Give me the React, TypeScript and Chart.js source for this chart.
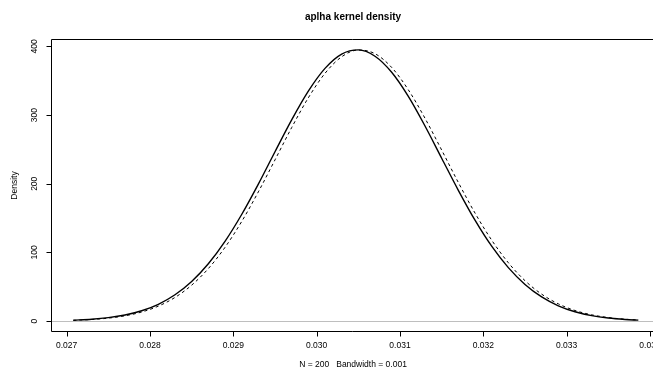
import React, { useEffect, useRef } from "react";
import { Chart, registerables } from "chart.js";

Chart.register(...registerables);

const chartTitle = "aplha kernel density";
const xAxisLabel = "N = 200   Bandwidth = 0.001";
const yAxisLabel = "Density";

const xValues = [
  0.02708, 0.0273, 0.0275, 0.0277, 0.0279, 0.0281, 0.0283, 0.0285, 0.0287, 0.0289,
  0.0291, 0.0293, 0.0295, 0.0297, 0.0299, 0.0301, 0.0303, 0.0305, 0.0307, 0.0309,
  0.0311, 0.0313, 0.0315, 0.0317, 0.0319, 0.0321, 0.0323, 0.0325, 0.0327, 0.0329,
  0.0331, 0.0333, 0.0335, 0.0337, 0.03386,
];

const kdeDensity = [
  1.37, 2.78, 5.08, 8.94, 15.12, 24.59, 38.46, 57.82, 83.59, 116.2,
  155.3, 199.6, 246.7, 293.1, 334.9, 368.0, 388.8, 394.9, 385.7, 362.3,
  327.2, 284.1, 237.2, 190.5, 147.0, 109.1, 77.9, 53.46, 35.27, 22.38,
  13.66, 8.01, 4.52, 2.45, 1.46,
];

const normalDensity = [
  1.16, 2.38, 4.39, 7.79, 13.31, 21.86, 34.51, 52.41, 76.5, 107.4,
  145.0, 188.2, 234.8, 281.8, 325.2, 360.8, 384.9, 394.8, 389.4, 369.4,
  336.8, 295.4, 249.1, 201.9, 157.4, 118.0, 85.05, 58.94, 39.28, 25.18,
  15.51, 9.19, 5.23, 2.87, 1.72,
];

const xTicks = [0.027, 0.028, 0.029, 0.03, 0.031, 0.032, 0.033, 0.034];
const yTicks = [0, 100, 200, 300, 400];

const X_MIN = 0.026812;
const X_MAX = 0.034036;
const X_FULL_MAX = 0.03406;
const Y_MIN = -15.8;
const Y_MAX = 410.8;

const FONT = '"Liberation Sans", Arial, Helvetica, sans-serif';

const rAxesPlugin = {
  id: "rAxes",
  beforeDatasetsDraw(chart: any) {
    const { ctx, chartArea, scales } = chart;
    const y0 = Math.round(scales.y.getPixelForValue(0)) + 0.5;
    ctx.save();
    ctx.strokeStyle = "#bebebe";
    ctx.lineWidth = 1;
    ctx.beginPath();
    ctx.moveTo(chartArea.left, y0);
    ctx.lineTo(chart.width, y0);
    ctx.stroke();
    ctx.restore();
  },
  afterDraw(chart: any) {
    const { ctx, chartArea, scales } = chart;
    const xs = scales.x;
    const ys = scales.y;
    const left = Math.round(chartArea.left) + 0.5;
    const top = Math.round(chartArea.top) + 0.5;
    const bottom = Math.round(chartArea.bottom) - 0.5;
    ctx.save();
    ctx.strokeStyle = "#000";
    ctx.lineWidth = 1;
    ctx.beginPath();
    ctx.moveTo(chart.width + 2, top);
    ctx.lineTo(left, top);
    ctx.lineTo(left, bottom);
    ctx.lineTo(chart.width + 2, bottom);
    ctx.stroke();

    // x ticks
    ctx.fillStyle = "#000";
    ctx.font = `8.5px ${FONT}`;
    ctx.textAlign = "center";
    ctx.textBaseline = "middle";
    ctx.beginPath();
    xTicks.forEach((v) => {
      const px = Math.round(xs.getPixelForValue(v)) + 0.5;
      ctx.moveTo(px, bottom);
      ctx.lineTo(px, bottom + 5);
    });
    ctx.stroke();
    xTicks.forEach((v) => {
      const px = xs.getPixelForValue(v);
      ctx.fillText(v.toFixed(3), px, 346);
    });

    // y ticks
    ctx.beginPath();
    yTicks.forEach((v) => {
      const py = Math.round(ys.getPixelForValue(v)) + 0.5;
      ctx.moveTo(left, py);
      ctx.lineTo(left - 5, py);
    });
    ctx.stroke();
    yTicks.forEach((v) => {
      const py = ys.getPixelForValue(v);
      ctx.save();
      ctx.translate(35, py);
      ctx.rotate(-Math.PI / 2);
      ctx.fillText(String(v), 0, 0);
      ctx.restore();
    });

    const centerX = (chartArea.left + xs.getPixelForValue(X_FULL_MAX)) / 2;
    const centerY = (chartArea.top + chartArea.bottom) / 2;

    ctx.fillText(xAxisLabel, centerX, 365);

    ctx.save();
    ctx.translate(15, centerY);
    ctx.rotate(-Math.PI / 2);
    ctx.fillText(yAxisLabel, 0, 0);
    ctx.restore();

    ctx.font = `bold 10px ${FONT}`;
    ctx.fillText(chartTitle, centerX, 17);
    ctx.restore();
  },
};

export default function App() {
  const canvasRef = useRef<HTMLCanvasElement | null>(null);

  useEffect(() => {
    const canvas = canvasRef.current;
    if (!canvas) return;
    const chart = new Chart(canvas, {
      type: "line",
      data: {
        datasets: [
          {
            label: "density",
            data: xValues.map((x, i) => ({ x, y: kdeDensity[i] })),
            borderColor: "#000",
            borderWidth: 1.4,
            pointRadius: 0,
            fill: false,
            cubicInterpolationMode: "monotone",
          },
          {
            label: "normal",
            data: xValues.map((x, i) => ({ x, y: normalDensity[i] })),
            borderColor: "#000",
            borderWidth: 1,
            borderDash: [3, 3],
            pointRadius: 0,
            fill: false,
            cubicInterpolationMode: "monotone",
          },
        ],
      },
      options: {
        animation: false,
        responsive: false,
        maintainAspectRatio: false,
        devicePixelRatio: 1,
        layout: { padding: { left: 51, top: 39, right: 0, bottom: 39 } },
        scales: {
          x: { type: "linear", display: false, min: X_MIN, max: X_MAX },
          y: { type: "linear", display: false, min: Y_MIN, max: Y_MAX },
        },
        plugins: {
          legend: { display: false },
          tooltip: { enabled: false },
          title: { display: false },
        },
      },
      plugins: [rAxesPlugin],
    } as any);
    return () => chart.destroy();
  }, []);

  return (
    <div style={{ position: "fixed", left: 0, top: 0, width: 653, height: 371, background: "#fff" }}>
      <canvas ref={canvasRef} width={653} height={371} style={{ display: "block" }} />
    </div>
  );
}
